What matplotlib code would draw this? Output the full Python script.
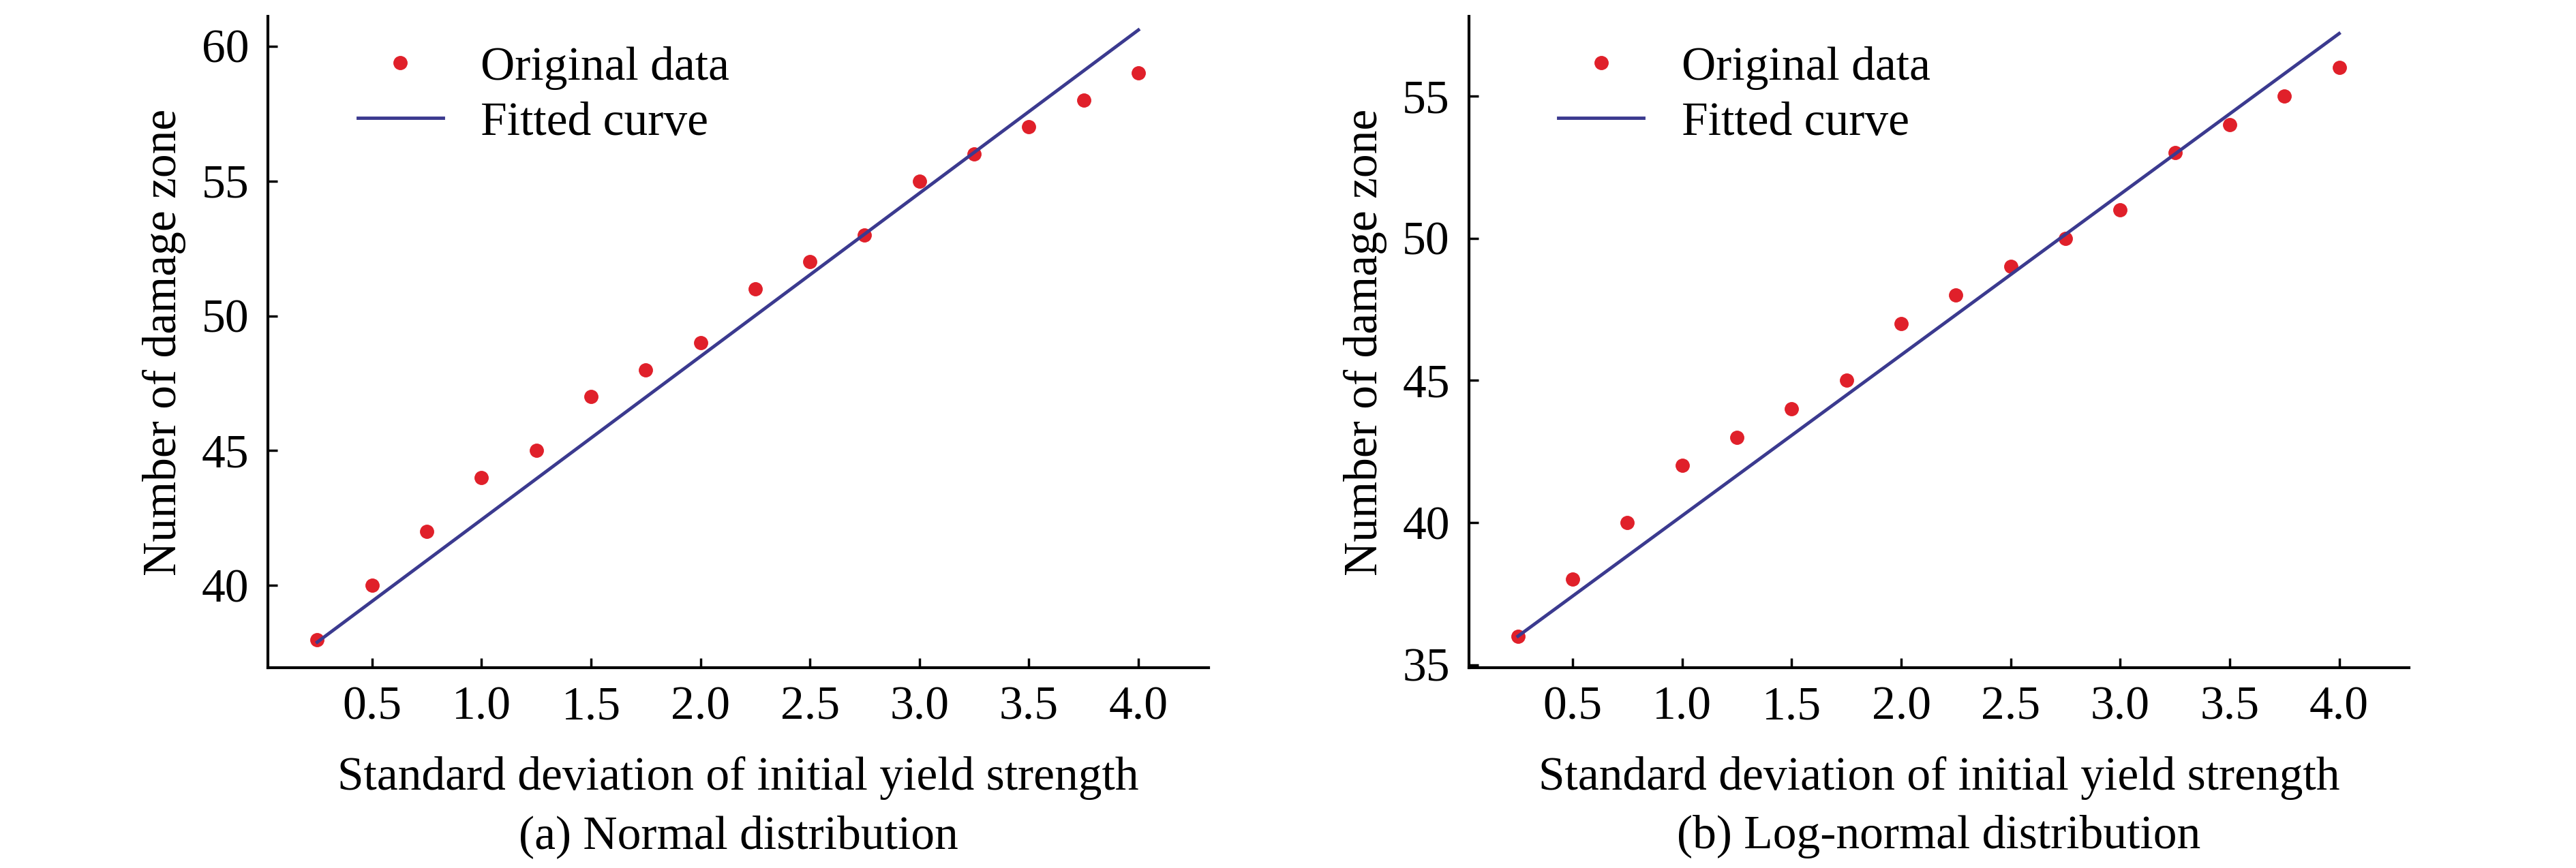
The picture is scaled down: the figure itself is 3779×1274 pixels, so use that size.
import numpy as np
import matplotlib
matplotlib.use('Agg')
import matplotlib.pyplot as plt

plt.rcParams['font.family'] = ['Liberation Serif', 'DejaVu Serif']

# Data
sd = [0.25, 0.5, 0.75, 1.0, 1.25, 1.5, 1.75, 2.0, 2.25, 2.5, 2.75, 3.0, 3.25, 3.5, 3.75, 4.0]
normal_n = [38, 40, 42, 44, 45, 47, 48, 49, 51, 52, 53, 55, 56, 57, 58, 59]
lognormal_n = [36, 38, 40, 42, 43, 44, 45, 47, 48, 49, 50, 51, 53, 54, 55, 56]
fit_x = [0.25, 4.0]
normal_fit = [37.9, 60.6]
lognormal_fit = [36.0, 57.2]
xticks = [0.5, 1.0, 1.5, 2.0, 2.5, 3.0, 3.5, 4.0]

fig = plt.figure(figsize=(37.8, 12.74), dpi=100)
fs = 50
panels = [
    ([0.104, 0.231, 0.365, 0.75], normal_n, normal_fit, (36.96, 61.1), [40, 45, 50, 55, 60], '(a) Normal distribution'),
    ([0.570, 0.231, 0.365, 0.75], lognormal_n, lognormal_fit, (34.9, 57.8), [35, 40, 45, 50, 55], '(b) Log-normal distribution'),
]
for rect, yv, fv, ylim, yt, cap in panels:
    ax = fig.add_axes(rect)
    ax.plot(sd, yv, 'o', color='#e0202a', markersize=14, label='Original data')
    ax.plot(fit_x, fv, color='#3b3a8f', linewidth=3.5, label='Fitted curve')
    ax.set_xlim(0.025, 4.32)
    ax.set_ylim(*ylim)
    ax.set_xticks(xticks)
    ax.set_xticklabels(['%.1f' % v for v in xticks])
    ax.set_yticks(yt)
    for s in ['top', 'right']:
        ax.spines[s].set_visible(False)
    for s in ['left', 'bottom']:
        ax.spines[s].set_linewidth(3)
    ax.tick_params(direction='in', length=10, width=2.5, labelsize=fs, pad=20)
    ax.set_xlabel('Standard deviation of initial yield strength', fontsize=fs, labelpad=28)
    ax.set_ylabel('Number of damage zone', fontsize=fs, labelpad=16)
    ax.legend(loc='upper left', frameon=False, fontsize=fs, bbox_to_anchor=(0.05, 1.02),
              handlelength=1.8, labelspacing=0.25)
    ax.text(0.5, -0.26, cap, transform=ax.transAxes, ha='center', va='center', fontsize=fs)

fig.savefig('out.png', dpi=100)
